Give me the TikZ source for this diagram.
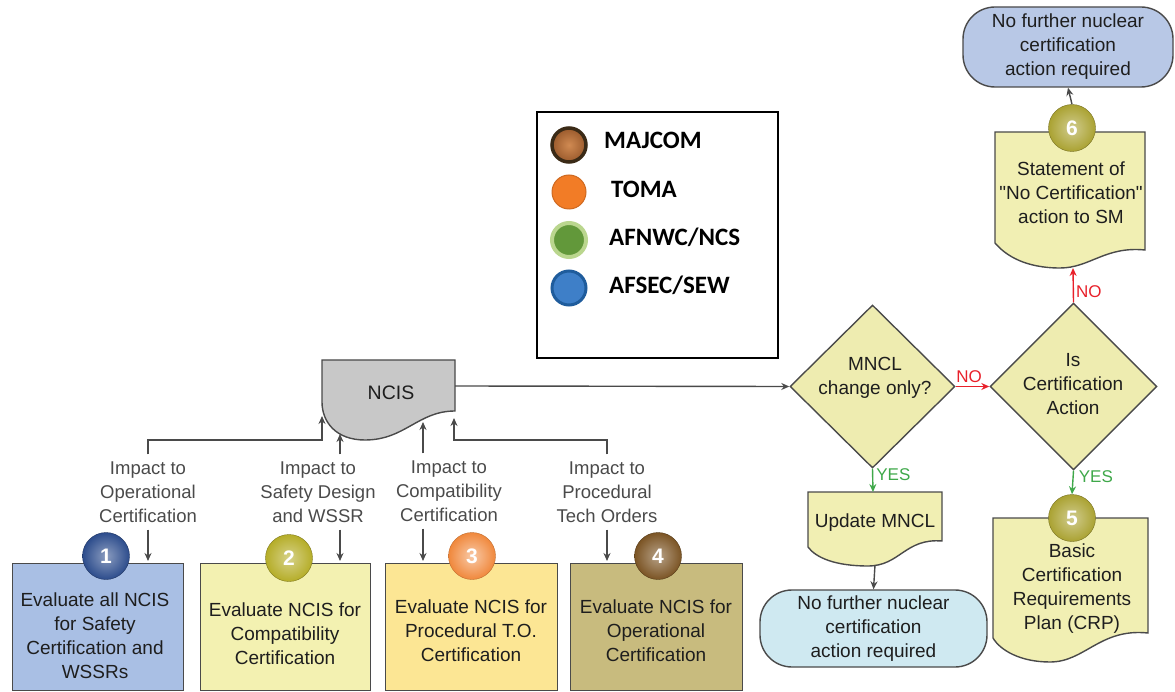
\documentclass[tikz,border=0pt]{standalone}
\usepackage{fontspec}
\setmainfont{Liberation Sans}
\newfontfamily\nomapfont{Liberation Sans}
\newfontfamily\legfont{Carlito}
\usetikzlibrary{shapes.geometric,arrows.meta}
\definecolor{linegray}{HTML}{4A4A4A}
\definecolor{labgray}{HTML}{4A4A4A}
\definecolor{textdark}{HTML}{1E1E1E}
\definecolor{bordergray}{HTML}{4A4A4A}
\definecolor{bonefill}{HTML}{A9BFE4}
\definecolor{btwofill}{HTML}{F3F1B1}
\definecolor{bthreefill}{HTML}{FCE694}
\definecolor{bfourfill}{HTML}{C8BB7E}
\definecolor{docfill}{HTML}{F1EFB3}
\definecolor{diafill}{HTML}{EEECB0}
\definecolor{ncisfill}{HTML}{C8C8C8}
\definecolor{termcyan}{HTML}{CFE9F1}
\definecolor{termblue}{HTML}{B8C8E6}
\definecolor{cone}{HTML}{2C4C8C}
\definecolor{ctwo}{HTML}{B5AD28}
\definecolor{cthree}{HTML}{F0883C}
\definecolor{cfour}{HTML}{7B5424}
\definecolor{cfive}{HTML}{AAA232}
\definecolor{nored}{HTML}{E8202A}
\definecolor{yesgreen}{HTML}{3FA84A}
\definecolor{majrim}{HTML}{3A2A16}
\definecolor{majin}{HTML}{D08A52}
\definecolor{majout}{HTML}{9A5A2C}
\definecolor{tomafill}{HTML}{F27C26}
\definecolor{afnin}{HTML}{62983A}
\definecolor{afnrim}{HTML}{BAD68E}
\definecolor{afsin}{HTML}{3E7FC8}
\definecolor{afsrim}{HTML}{1F5C9C}
\begin{document}
\begin{tikzpicture}[x=1pt,y=-1pt,
  conn/.style={draw=linegray, line width=1.4pt},
  arr/.style={conn, -{Stealth[length=8pt,width=7pt]}},
  lab/.style={text=labgray, font=\fontsize{18.5}{24}\selectfont, align=center, inner xsep=2pt, inner ysep=7pt},
  boxtxt/.style={text=textdark, font=\fontsize{19}{24}\selectfont, align=center, inner sep=0pt},
  evalbox/.style={draw=bordergray, line width=1.4pt, anchor=north west, minimum width=171pt, minimum height=127pt, inner sep=0pt},
  numc/.style={circle, minimum size=47pt, inner sep=0pt, shading=radial, text=white, font=\bfseries\fontsize{21}{21}\selectfont},
  docshape/.style={draw=bordergray, line width=1.4pt, fill=docfill},
  dia/.style={diamond, draw=bordergray, line width=1.4pt, fill=diafill, aspect=1, inner sep=0pt},
  term/.style={draw=bordergray, line width=1.4pt, rounded corners=32pt, text=textdark, font=\fontsize{19}{24}\selectfont, align=center},
  legc/.style={circle, minimum size=34pt, inner sep=0pt},
  legt/.style={anchor=west, font=\legfont\bfseries\fontsize{25}{25}\selectfont, inner sep=0pt}
]
\useasboundingbox (0,0) rectangle (1175,692);

% ---- evaluation boxes
\node[evalbox, fill=bonefill] (box1) at (12,563) {};
\node[evalbox, fill=btwofill, minimum width=170pt] (box2) at (200,563) {};
\node[evalbox, fill=bthreefill, minimum width=172pt] (box3) at (385,563) {};
\node[evalbox, fill=bfourfill, minimum width=172pt] (box4) at (570,563) {};
\node[boxtxt] (t1) at (95,636) {Evaluate all NCIS\\for Safety\\Certification and\\WSSRs};
\node[boxtxt] (t2) at (285,634) {Evaluate NCIS for\\Compatibility\\Certification};
\node[boxtxt] (t3) at (471,631) {Evaluate NCIS for\\Procedural T.O.\\Certification};
\node[boxtxt] (t4) at (656,631) {Evaluate NCIS for\\Operational\\Certification};

% ---- number circles
\node[numc, inner color=cone!55!white, outer color=cone, draw=cone!70!black] (n1) at (106,556) {1};
\node[numc, inner color=ctwo!55!white, outer color=ctwo, draw=ctwo!70!black] (n2) at (289,558) {2};
\node[numc, inner color=cthree!45!white, outer color=cthree, draw=cthree!80!black] (n3) at (472,556) {3};
\node[numc, inner color=cfour!55!white, outer color=cfour, draw=cfour!70!black] (n4) at (658,556) {4};

% ---- NCIS document
\node[minimum width=133pt, minimum height=52pt, inner sep=0pt] (ncis) at (388.5,386) {};
\path[draw=linegray, line width=1.4pt, fill=ncisfill]
  (322,360) -- (455,360) -- (455,411)
  .. controls (418,411) and (405,440) .. (365,440)
  .. controls (336,440) and (322,422) .. (322,402) -- cycle;
\node[text=textdark, font=\fontsize{19.5}{20}\selectfont] (ncistxt) at (391,393) {NCIS};
\coordinate (ncisA) at (322,416);
\coordinate (ncisB) at (340,434);
\coordinate (ncisC) at (423,422);
\coordinate (ncisD) at (454,418);
\coordinate (elbA) at (322,440);
\coordinate (elbD) at (454,440);

% ---- impact labels
\node[lab] (lab1) at (148,492) {Impact to\\Operational\\Certification};
\node[lab] (lab2) at (318,492) {Impact to\\Safety Design\\and WSSR};
\node[lab] (lab3) at (449,491) {Impact to\\Compatibility\\Certification};
\node[lab] (lab4) at (607,492) {Impact to\\Procedural\\Tech Orders};

\draw[arr] (lab1.north) |- (elbA) -- (ncisA);
\draw[arr, shorten >=2pt] (lab1.south) -- (lab1.south |- box1.north);
\draw[arr] (ncisB |- lab2.north) -- (ncisB);
\draw[arr, shorten >=2pt] (ncisB |- lab2.south) -- (ncisB |- box2.north);
\draw[arr] (ncisC |- lab3.north) -- (ncisC);
\draw[arr, shorten >=2pt] (ncisC |- lab3.south) -- (ncisC |- box3.north);
\draw[arr] (lab4.north) |- (elbD) -- (ncisD);
\draw[arr, shorten >=2pt] (lab4.south) -- (lab4.south |- box4.north);

% ---- legend
\node[draw=black, line width=2pt, minimum width=241pt, minimum height=246pt, inner sep=0pt] (legend) at (657.5,235) {};
\node[legc, draw=majrim, line width=3.5pt, shading=radial, inner color=majin, outer color=majout] (lc1) at (569,145) {};
\node[legc, fill=tomafill, draw=tomafill!85!black, line width=1pt] (lc2) at (569,192) {};
\node[legc, fill=afnin, draw=afnrim, line width=4pt] (lc3) at (569,240) {};
\node[legc, fill=afsin, draw=afsrim, line width=3pt] (lc4) at (569,288) {};
\node[legt] (lt1) at (604,140) {MAJCOM};
\node[legt] (lt2) at (611,189) {TOMA};
\node[legt] (lt3) at (609,237) {AFNWC/NCS};
\node[legt] (lt4) at (609,285) {AFSEC/SEW};

% ---- decisions
\node[dia, minimum width=165pt, minimum height=163pt] (d1) at (872.5,386.5) {};
\node[boxtxt] (d1t) at (875,378) {MNCL\\change only?};
\node[dia, minimum width=167pt, minimum height=167pt] (d2) at (1073.5,386.5) {};
\node[boxtxt] (d2t) at (1073,384) {Is\\Certification\\Action};

\draw[arr] (ncis.east) -- (d1.west);
\draw[arr, draw=nored] (d1.east) -- node[above, pos=0.4, text=nored, font=\fontsize{17}{17}\selectfont, inner sep=3pt] {NO} (d2.west);

% ---- update MNCL document
\path[docshape] (808,492) -- (942,492) -- (942,541)
  .. controls (905,538) and (900,566) .. (868,566)
  .. controls (836,566) and (816,558) .. (808,547) -- cycle;
\node[boxtxt] (um) at (875,523) {Update MNCL};
\coordinate (umtop) at (873,492);
\coordinate (umbot) at (875,565);
\draw[arr, draw=yesgreen] (d1.south) -- node[right, pos=0.25, text=yesgreen, font=\fontsize{17}{17}\selectfont, inner sep=3pt] {YES} (umtop);

% ---- terminal bottom
\node[term, fill=termcyan, minimum width=227pt, minimum height=77pt, inner sep=0pt] (termB) at (873.5,628.5) {No further nuclear\\certification\\action required};
\draw[arr] (umbot) -- (termB.north);

% ---- CRP document
\path[docshape] (993,518) -- (1148,518) -- (1148,633)
  .. controls (1100,628) and (1085,662) .. (1050,662)
  .. controls (1020,662) and (1000,650) .. (993,638) -- cycle;
\node[boxtxt] (crp) at (1072,589) {Basic\\Certification\\Requirements\\Plan (CRP)};
\node[numc, inner color=cfive!55!white, outer color=cfive, draw=cfive!70!black] (n5) at (1072,518) {5};
\draw[arr, draw=yesgreen] (d2.south) -- node[right, pos=0.25, text=yesgreen, font=\fontsize{17}{17}\selectfont, inner sep=5pt] {YES} (n5.north);

% ---- statement document
\path[docshape] (995,132) -- (1145,132) -- (1145,250)
  .. controls (1105,246) and (1090,268) .. (1060,268)
  .. controls (1026,268) and (1006,256) .. (995,243) -- cycle;
\node[boxtxt] (stm) at (1071,193) {Statement of\\{\nomapfont "}No Certification{\nomapfont "}\\action to SM};
\node[numc, inner color=cfive!55!white, outer color=cfive, draw=cfive!70!black] (n6) at (1072,128) {6};
\coordinate (stmbot) at (1073,268);
\draw[arr, draw=nored] (d2.north) -- node[right, pos=0.3, text=nored, font=\fontsize{17}{17}\selectfont, inner sep=2pt] {NO} (stmbot);

% ---- terminal top
\node[term, fill=termblue, minimum width=210pt, minimum height=80pt, inner sep=0pt] (termT) at (1068,47) {No further nuclear\\certification\\action required};
\draw[arr] (n6.north) -- (termT.south);
\end{tikzpicture}
\end{document}
